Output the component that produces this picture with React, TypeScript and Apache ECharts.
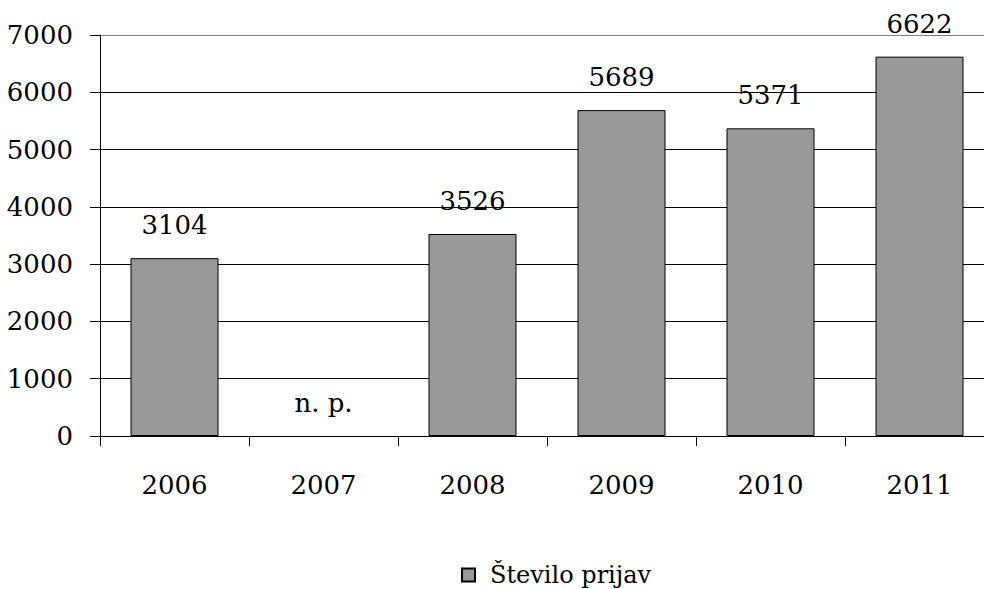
import React, { useEffect, useRef } from "react";
import * as echarts from "echarts";

const years = ["2006", "2007", "2008", "2009", "2010", "2011"];
// number of reports per year; null = not available ("n. p.")
const reports: (number | null)[] = [3104, null, 3526, 5689, 5371, 6622];
const seriesName = "Število prijav";
const missingLabel = "n. p.";

const FONT = "DejaVu Serif";
const FS = 26;

export default function App() {
  const ref = useRef<HTMLDivElement>(null);

  useEffect(() => {
    if (!ref.current) return;
    const chart = echarts.init(ref.current, undefined, { renderer: "svg" });

    const data = reports.map((v) =>
      v === null
        ? {
            value: 0,
            itemStyle: { color: "transparent", borderWidth: 0 },
            label: { formatter: missingLabel },
          }
        : v
    );

    const txt = { fontFamily: FONT, fontSize: FS, color: "#000" };

    chart.setOption({
      animation: false,
      backgroundColor: "#ffffff",
      textStyle: { fontFamily: FONT, color: "#000" },
      grid: { left: 100, top: 35, width: 894, height: 401, containLabel: false },
      legend: {
        left: 456,
        top: 558,
        itemWidth: 13,
        itemHeight: 13,
        icon: "rect",
        textStyle: { fontFamily: FONT, fontSize: 24, color: "#000", padding: [0, 0, 0, 10] },
        data: [seriesName],
      },
      xAxis: {
        type: "category",
        data: years,
        axisLine: { lineStyle: { color: "#000", width: 1 } },
        axisTick: { show: true, length: 10, lineStyle: { color: "#000" } },
        axisLabel: { ...txt, margin: 36 },
      },
      yAxis: {
        type: "value",
        min: 0,
        max: 7000,
        interval: 1000,
        axisLine: { show: true, lineStyle: { color: "#000", width: 1 } },
        axisTick: { show: true, length: 10, lineStyle: { color: "#000" } },
        axisLabel: { ...txt, margin: 27, formatter: (v: number) => String(v) },
        splitLine: {
          show: true,
          lineStyle: {
            width: 1,
            color: ["#000", "#000", "#000", "#000", "#000", "#000", "#000", "#808080"],
          },
        },
      },
      series: [
        {
          name: seriesName,
          type: "bar",
          data,
          barWidth: 88,
          itemStyle: { color: "#999999", borderColor: "#000", borderWidth: 1 },
          label: { show: true, position: "top", distance: 20, ...txt },
        },
      ],
    });

    return () => chart.dispose();
  }, []);

  // the plot runs slightly past the right edge, so the chart is wider than its frame
  return (
    <div style={{ position: "absolute", left: 0, top: 0, width: 984, height: 589, overflow: "hidden", background: "#fff" }}>
      <div ref={ref} style={{ width: 1004, height: 589 }} />
    </div>
  );
}
